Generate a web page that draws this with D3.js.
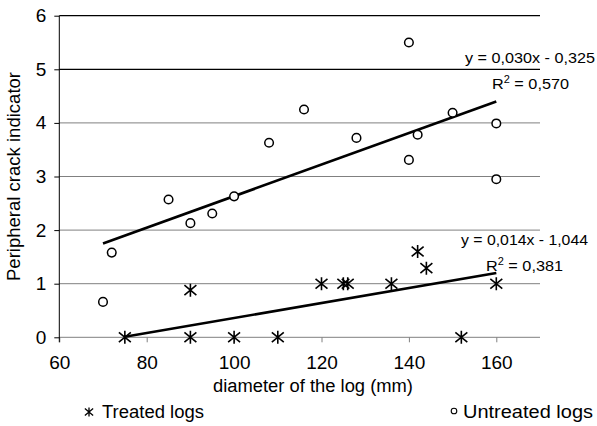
<!DOCTYPE html>
<html><head><meta charset="utf-8">
<script src="https://cdn.jsdelivr.net/npm/d3@7"></script>
<style>body{margin:0;background:#fff}svg{display:block}text{font-family:Arial,"Liberation Sans",sans-serif;fill:#000}</style>
</head><body><svg id="c" width="597" height="426"></svg>
<script>
const untreatedX = [70,72,85,90,95,100,108,116,128,140,140,142,150,160,160];
const untreatedY = [0.66,1.58,2.57,2.13,2.31,2.63,3.63,4.25,3.72,5.50,3.31,3.78,4.19,3.99,2.95];
const treatedX = [75,90,90,100,110,120,125,126,136,142,144,152,160];
const treatedY = [0,0.88,0,0,0,1,1,1,1,1.6,1.29,0,1];
const untreatedTrendX = [70,160], untreatedTrendY = [1.75,4.40];
const treatedTrendX = [75,160], treatedTrendY = [0.01,1.20];
const xTicks = [60,80,100,120,140,160];
const yTicks = [0,1,2,3,4,5,6];
const eqUntreated = ["y = 0,030x - 0,325","0,570"];
const eqTreated = ["y = 0,014x - 1,044","0,381"];
const legendLabels = ["Treated logs","Untreated logs"];
const xTitle = "diameter of the log (mm)", yTitle = "Peripheral crack indicator";

const svg = d3.select("#c");
const x = d3.scaleLinear().domain([60,170]).range([59.3,540]);
const y = d3.scaleLinear().domain([0,6]).range([337.3,15.7]);
const FF = "Arial, Liberation Sans, sans-serif";

// gridlines
svg.append("g").selectAll("line").data(yTicks.filter(d=>d>0)).join("line")
  .attr("x1",x(60)).attr("x2",x(170)).attr("y1",d=>y(d)).attr("y2",d=>y(d))
  .attr("stroke",d=>d>=5?"#000":"#808080").attr("stroke-width",d=>d>=5?1.2:1);

// x axis
const gx = svg.append("g").attr("transform",`translate(0,${y(0)})`)
  .call(d3.axisBottom(x).tickValues(xTicks).tickFormat(d3.format("d")).tickSize(5).tickPadding(13.4));
gx.select(".domain").attr("d",`M${x(60)},0H${x(170)}`).attr("stroke","#808080");
gx.selectAll(".tick line").attr("stroke","#808080");
gx.selectAll(".tick text").attr("font-size",19).attr("font-family",FF);

// y axis
const gy = svg.append("g").attr("transform",`translate(${x(60)},0)`)
  .call(d3.axisLeft(y).tickValues(yTicks).tickFormat(d3.format("d")).tickSize(5).tickPadding(8));
gy.select(".domain").attr("d",`M0,${y(6)}V${y(0)+5}`).attr("stroke","#000");
gy.selectAll(".tick line").attr("stroke","#000");
gy.selectAll(".tick text").attr("font-size",19).attr("font-family",FF);

// trend lines
const line = d3.line().x(d=>x(d[0])).y(d=>y(d[1]));
svg.append("path").datum(untreatedTrendX.map((v,i)=>[v,untreatedTrendY[i]]))
  .attr("d",line).attr("fill","none").attr("stroke","#000").attr("stroke-width",2.6);
svg.append("path").datum(treatedTrendX.map((v,i)=>[v,treatedTrendY[i]]))
  .attr("d",line).attr("fill","none").attr("stroke","#000").attr("stroke-width",2.6);

// asterisk path
function star(s){
  const h=s/2, dx=s*0.46, dy=s*0.38;
  return `M0,${-h}V${h}M${-dx},${-dy}L${dx},${dy}M${dx},${-dy}L${-dx},${dy}`;
}
// treated points
svg.append("g").selectAll("path").data(treatedX.map((v,i)=>[v,treatedY[i]])).join("path")
  .attr("transform",d=>`translate(${x(d[0])},${y(d[1])})`)
  .attr("d",star(13)).attr("stroke","#000").attr("stroke-width",1.6).attr("fill","none");
// untreated points
svg.append("g").selectAll("circle").data(untreatedX.map((v,i)=>[v,untreatedY[i]])).join("circle")
  .attr("cx",d=>x(d[0])).attr("cy",d=>y(d[1])).attr("r",4.3)
  .attr("fill","#fff").attr("stroke","#000").attr("stroke-width",1.5);

// equations
function eq(lines, x1, b1, len1, x2, b2, len2){
  svg.append("text").attr("x",x1).attr("y",b1).attr("font-size",15.5)
    .attr("textLength",len1).attr("lengthAdjust","spacingAndGlyphs").text(lines[0]);
  const t = svg.append("text").attr("x",x2).attr("y",b2).attr("font-size",15.5)
    .attr("textLength",len2).attr("lengthAdjust","spacingAndGlyphs");
  t.append("tspan").text("R");
  t.append("tspan").attr("font-size",10.5).attr("dy",-6).text("2");
  t.append("tspan").attr("dy",6).text(" = "+lines[1]);
}
eq(eqUntreated, 465, 63, 130, 492, 89, 77);
eq(eqTreated, 461, 245, 127, 486, 271, 77);

// axis titles
svg.append("text").attr("x",213).attr("y",392).attr("font-size",18)
  .attr("textLength",200).attr("lengthAdjust","spacingAndGlyphs").text(xTitle);
svg.append("text").attr("transform","translate(20,281) rotate(-90)").attr("font-size",18.5)
  .attr("textLength",209).attr("lengthAdjust","spacingAndGlyphs").text(yTitle);

// legend
svg.append("path").attr("transform","translate(89,412)").attr("d",star(9))
  .attr("stroke","#000").attr("stroke-width",1.3).attr("fill","none");
svg.append("text").attr("x",102).attr("y",418).attr("font-size",17.5)
  .attr("textLength",102).attr("lengthAdjust","spacingAndGlyphs").text(legendLabels[0]);
svg.append("circle").attr("cx",454).attr("cy",411).attr("r",2.8)
  .attr("fill","#fff").attr("stroke","#000").attr("stroke-width",1.1);
svg.append("text").attr("x",463).attr("y",418).attr("font-size",17.5)
  .attr("textLength",130).attr("lengthAdjust","spacingAndGlyphs").text(legendLabels[1]);
</script></body></html>
